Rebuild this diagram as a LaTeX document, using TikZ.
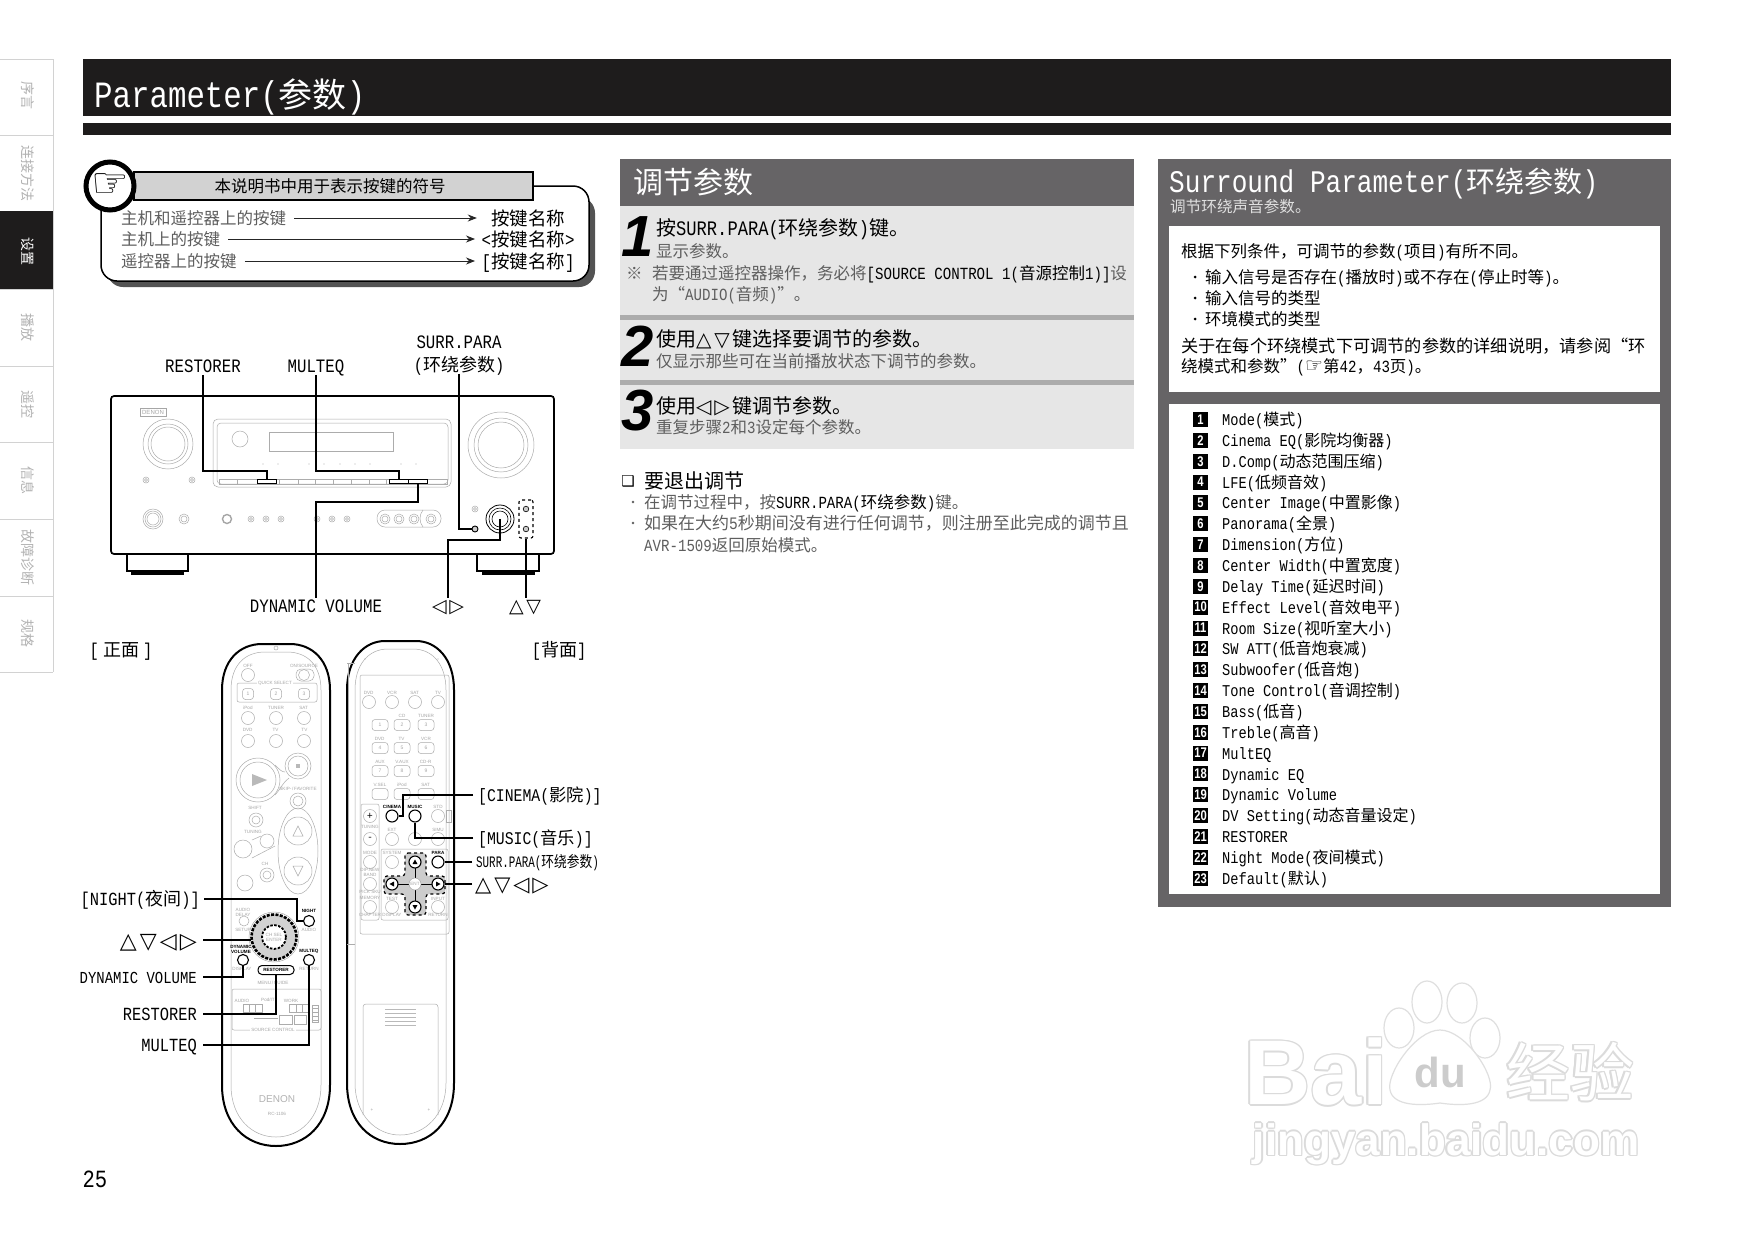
\documentclass[tikz,border=0pt]{standalone}
\usepackage{fontspec}
\usepackage{graphicx}
\usepackage{tikz}
\usepackage{xcolor}
\usetikzlibrary{arrows.meta}

\setmainfont{Noto Sans CJK SC}
\newfontfamily\latinf{Liberation Mono}[Scale=1.03, FakeStretch=0.83]
\newfontfamily\symf{DejaVu Sans}
\newfontfamily\sansf{Liberation Sans}
\newfontfamily\numf{Liberation Sans}[FakeStretch=0.8]

\newcommand{\zs}{\rule[-.25em]{0pt}{1.26em}}
\newcommand{\fsz}[1]{\fontsize{#1}{#1}\selectfont\zs}
\newcommand{\lt}[1]{{\latinf #1}}
\newcommand{\pz}[2]{\lt{#1(}#2\lt{)}}
\newcommand{\cm}{\symbol{"FF0C}}
\newcommand{\tlr}{{\symf ◁\hspace{.14em}▷}}
\newcommand{\tud}{{\symf △\hspace{.14em}▽}}
\newcommand{\wmark}[3]{%
    \foreach \a in {0,45,...,315}{\node[gray!28] at ([shift={(\a:1.5pt)}]#2) {#3};}
    \node[white] (#1) at (#2) {#3};}

\definecolor{headgray}{HTML}{666466}
\definecolor{panelgray}{HTML}{E6E6E6}
\definecolor{softtxt}{HTML}{5E5E5E}
\definecolor{titleblack}{HTML}{1E1C1C}

\tikzset{
    txt/.style={anchor=west, inner sep=0pt, text=black},
    ctxt/.style={inner sep=0pt, text=black},
    rtxt/.style={anchor=east, inner sep=0pt, text=black},
    leader/.style={line width=1.6pt, black},
    faint/.style={line width=0.5pt, gray!65},
    tiny/.style={inner sep=0pt, text=gray!70, font=\sansf\fontsize{4.6}{5}\selectfont, align=center},
    tinydark/.style={inner sep=0pt, text=black, font=\sansf\bfseries\fontsize{4.6}{5}\selectfont, align=center},
    softbtn/.style={circle, draw=gray!65, line width=0.5pt, inner sep=0pt, minimum size=13pt},
    softkey/.style={rectangle, rounded corners=3pt, draw=gray!65, line width=0.5pt, inner sep=0pt, minimum width=16pt, minimum height=11pt, text=gray!70, font=\sansf\fontsize{5}{5}\selectfont},
    keybtn/.style={circle, draw=black, line width=1.1pt, fill=white, inner sep=0pt, minimum size=11pt},
    panelkey/.style={rectangle, draw=black, line width=0.9pt, fill=white, inner sep=0pt, minimum width=19pt, minimum height=4.5pt},
    numbox/.style={rectangle, fill=black, text=white, inner sep=0pt, minimum size=15pt, font=\numf\bfseries\fontsize{14}{14}\selectfont},
    hrow/.style={-{Stealth[length=9pt,width=7pt]}, line width=0.8pt, gray!30!black},
}

\begin{document}
\begin{tikzpicture}[x=1pt, y=-1pt]
    \useasboundingbox (0,0) rectangle (1754,1240);
    \fill[white] (0,0) rectangle (1754,1240);

    % Side tabs
    \draw[gray!35, line width=1pt] (53,59) -- (53,672);
    \foreach \y in {59,135,289,366,442,519,596,672}
        \draw[gray!35, line width=1pt] (0,\y) -- (53,\y);
    \fill[titleblack] (0,211) rectangle (53,289);
    \foreach \i/\y/\t in {a/95/序言,b/173/连接方法,d/327/播放,e/404/遥控,f/480/信息,g/557/故障诊断,h/633/规格}
        \node[ctxt, text=gray!60, rotate=-90, font=\fsz{14}] (tab\i) at (28,\y) {\t};
    \node[ctxt, text=white, rotate=-90, font=\fsz{14}] (tabc) at (28,251) {设置};

    % Title bars
    \fill[titleblack] (83,59) rectangle (1671,116);
    \fill[titleblack] (83,123) rectangle (1671,135);
    \node[txt, text=white, font=\fsz{36}] (title) at (94,94) {\lt{Parameter(}{\fsz{34}参数}\lt{)}};

    % Key symbols note
    \path[fill=gray!65!black, rounded corners=16pt] (110,197) -- (595,197) -- (595,287) -- (107,287) -- cycle;
    \draw[fill=white, line width=1.5pt, rounded corners=16pt] (533,186) -- (589,186) -- (589,281) -- (101,281) -- (101,195) -- (130,186) -- cycle;
    \node[rectangle, draw=black, line width=1.5pt, fill=gray!35, minimum width=399pt, minimum height=28pt, inner sep=0pt] (notehead) at (333.5,186) {};
    \node[ctxt, font=\fsz{16.5}] (notetitle) at (330,186) {本说明书中用于表示按键的符号};
    \node[circle, draw=black, line width=5pt, fill=white, minimum size=48pt, inner sep=0pt, font=\symf\fontsize{42}{42}\selectfont] (hand) at (110,186) {☞};

    \node[txt, text=softtxt, font=\fsz{16.5}] (rowa) at (121,218) {主机和遥控器上的按键};
    \node[txt, text=softtxt, font=\fsz{16.5}] (rowb) at (121,239) {主机上的按键};
    \node[txt, text=softtxt, font=\fsz{16.5}] (rowc) at (121,261) {遥控器上的按键};
    \node[ctxt, font=\fsz{18.5}] (keya) at (528,218) {按键名称};
    \node[ctxt, font=\fsz{18.5}] (keyb) at (528,239) {\lt{<}按键名称\lt{>}};
    \node[ctxt, font=\fsz{18.5}] (keyc) at (528,261) {\lt{[}按键名称\lt{]}};
    \draw[hrow] ([xshift=8pt]rowa.east) -- ([xshift=-14pt]keya.west);
    \draw[hrow] ([xshift=8pt]rowb.east) -- (475,239);
    \draw[hrow] ([xshift=8pt]rowc.east) -- (475,261);

    % Receiver body
    \draw[line width=1.7pt, rounded corners=3pt] (111,396) rectangle (554,554);
    \draw[line width=1.3pt] (127,554) -- (127,571) -- (188,571) -- (188,554);
    \fill[black] (131,571) rectangle (184,575);
    \draw[line width=1.3pt] (477,554) -- (477,571) -- (539,571) -- (539,554);
    \fill[black] (482,571) rectangle (535,575);
    \node[rectangle, draw=gray!70, line width=0.6pt, minimum width=26pt, minimum height=8pt, inner sep=0pt, text=gray!70, font=\sansf\fontsize{6}{6}\selectfont] (logo) at (153,412) {DENON};

    % Receiver knobs and small controls
    \draw[faint] (168,444) circle (25pt) circle (20pt) circle (17pt);
    \draw[faint] (501,445) circle (33pt) circle (27pt) circle (23pt);
    \foreach \x/\y in {146/480,192/480,475/509}
        \draw[faint] (\x,\y) circle (3pt) circle (1.5pt);
    \draw[faint] (153,519) circle (10pt) circle (8pt) circle (6pt);
    \draw[faint] (184,519) circle (5pt) circle (3pt);
    \draw[gray!70, line width=1.4pt] (227,519) circle (4.5pt);
    \foreach \x in {251,266,281,317,332,347}
        \draw[faint] (\x,519) circle (3pt) circle (1.5pt);
    \draw[faint, rounded corners=8pt] (377,510) rectangle (441,527);
    \draw[faint] (423,510) .. controls (419,515) and (419,522) .. (423,527);
    \foreach \x in {385,399,414,431}
        \draw[faint] (\x,519) circle (5pt) circle (3pt);

    % Receiver display panel
    \draw[faint, rounded corners=5pt] (213,419) rectangle (451,487);
    \draw[faint, rounded corners=4pt] (217,423) rectangle (448,484);
    \draw[faint] (240,439) circle (8pt);
    \draw[faint] (269,432) rectangle (393,451);
    \foreach \x in {263,278,309,324,340,355,370,401,416}
        \fill[gray!60] (\x,464) circle (0.7pt);
    \draw[faint] (219,479) rectangle (447,484);
    \foreach \x in {237,279,298,315,333,351,369,386}
        \draw[faint] (\x,479) -- (\x,484);
    \node[panelkey] (pkrestorer) at (267,481.5) {};
    \node[panelkey] (pkmulteq) at (399,481.5) {};
    \node[panelkey] (pkdynvol) at (418,481.5) {};
    \node[circle, draw=black, line width=0.9pt, fill=gray!40, inner sep=0pt, minimum size=6pt] (pksurr) at (475,529) {};
    \node[circle, draw=black, line width=0.8pt, inner sep=0pt, minimum size=28pt] (pkdial) at (500,519) {};
    \draw[line width=0.6pt] (500,519) circle (11pt) circle (8pt);
    \node[rectangle, draw=black, line width=1.1pt, dashed, rounded corners=2pt, minimum width=14pt, minimum height=38pt, inner sep=0pt] (pkupdn) at (526,519) {};
    \foreach \y in {509,529}
        \draw[line width=0.6pt, fill=gray!40] (526,\y) circle (2.8pt);

    % Receiver labels
    \node[ctxt, font=\fsz{18.4}] (lblrest) at (203,366) {\lt{RESTORER}};
    \node[ctxt, font=\fsz{18.4}] (lblmulti) at (316,366) {\lt{MULTEQ}};
    \node[ctxt, font=\fsz{18.4}] (lblsurr) at (459,342) {\lt{SURR.PARA}};
    \node[ctxt, font=\fsz{18}] (lblsurrb) at (459,365) {\pz{}{环绕参数}};
    \node[ctxt, font=\fsz{18.4}] (lbldyn) at (316,605) {\lt{DYNAMIC VOLUME}};
    \node[ctxt, font=\fsz{19}] (lbllr) at (448,605) {\tlr};
    \node[ctxt, font=\fsz{19}] (lblud) at (525,605) {\tud};

    % Receiver leaders
    \coordinate (turnrest) at (267,471);
    \coordinate (turnmulti) at (399,471);
    \coordinate (turndyn) at (316,502);
    \coordinate (turnlr) at (448,540);
    \draw[leader] ([yshift=3pt]lblrest.south) |- (turnrest) -- (pkrestorer.north);
    \draw[leader] ([yshift=3pt]lblmulti.south) |- (turnmulti) -- (pkmulteq.north);
    \draw[leader] (pkdynvol.south) |- (turndyn) -- ([yshift=-5pt]lbldyn.north);
    \draw[leader] ([yshift=3pt]lblsurrb.south) |- (pksurr.west);
    \draw[leader] (pkdial.center) |- (turnlr) -- ([yshift=-5pt]lbllr.north);
    \draw[leader] (pkupdn.south) -- ([xshift=1pt,yshift=-5pt]lblud.north);

    % Front and back captions
    \node[ctxt, font=\fsz{18}] (capfront) at (121,650) {\lt{[} 正面 \lt{]}};
    \node[ctxt, font=\fsz{18}] (capback) at (559,650) {\lt{[}背面\lt{]}};

    % Front remote shell
    \draw[line width=2pt] (222,690) .. controls (222,660) and (240,644) .. (262,644) -- (290,644) .. controls (312,644) and (330,660) .. (330,690) -- (330,1085) .. controls (330,1125) and (305,1146) .. (276,1146) .. controls (247,1146) and (222,1125) .. (222,1085) -- cycle;
    \draw[faint] (231,690) .. controls (231,665) and (245,652) .. (265,652) -- (287,652) .. controls (307,652) and (321,665) .. (321,690) -- (321,1085) .. controls (321,1118) and (300,1137) .. (276,1137) .. controls (252,1137) and (231,1118) .. (231,1085) -- cycle;
    \draw[faint] (276,648) circle (2pt);

    % Front remote keys, top half
    \node[softbtn] (fbtnoff) at (248,675) {};
    \node[tiny] (foff) at (248,666) {OFF};
    \draw[faint, rounded corners=5pt] (296,669) rectangle (314,681);
    \draw[faint] (304,675) circle (5.5pt);
    \node[tiny] (fsrc) at (304,666) {ON/SOURCE};
    \draw[faint, rounded corners=2pt] (237,683) rectangle (317,702);
    \node[tiny, fill=white, inner xsep=1pt] (fquick) at (275,683) {QUICK SELECT};
    \foreach \i/\x in {1/248,2/276,3/304}
        \node[softkey, minimum width=11pt] (fkey\i) at (\x,694) {\i};
    \foreach \i/\x/\a/\b in {1/248/iPod/DVD\,/\,HDP,2/276/TUNER/TV\,/\,CBL,3/304/SAT\,/\,TV/VCR}{
        \node[softbtn] (fa\i) at (\x,718) {};
        \node[tiny] (fla\i) at (\x,708) {\a};
        \node[softbtn] (fb\i) at (\x,741) {};
        \node[tiny] (flb\i) at (\x,730) {\b};
    }

    % Front remote keys, transport
    \draw[faint] (258,780) circle (22pt) circle (18pt);
    \fill[gray!55] (252,774) -- (267,780) -- (252,786) -- cycle;
    \draw[faint] (298,766) circle (13pt) circle (10pt);
    \fill[gray!55] (296,764) rectangle (300,768);
    \draw[faint] (275,765) .. controls (280,770) and (282,772) .. (285,772);
    \draw[faint] (275,795) .. controls (280,790) and (283,782) .. (289,778);
    \node[tiny] (fskip) at (298,789) {SKIP-\,/\,FAVORITE};
    \draw[faint] (298,801) circle (8pt) circle (5pt);
    \node[tiny] (fshift) at (255,808) {SHIFT};
    \draw[faint] (256,820) circle (7pt) circle (4pt);
    \node[tiny] (ftun) at (253,832) {TUNING};
    \draw[faint] (243,849) circle (9pt);
    \draw[faint] (267,841) circle (7pt);
    \draw[faint] (252,840) -- (261,836);
    \draw[faint] (252,858) -- (275,846);
    \node[tiny] (fch) at (265,864) {CH};
    \draw[faint] (267,875) circle (7pt) circle (4pt);
    \draw[faint] (245,883) circle (8pt);
    \draw[faint] (298,831) circle (14pt);
    \draw[faint] (298,871) circle (14pt);
    \draw[faint] (298,851) ellipse (20pt and 43pt);
    \draw[faint] (293,836) -- (298,826) -- (303,836) -- cycle;
    \draw[faint] (293,866) -- (303,866) -- (298,876) -- cycle;

    % Front remote keys, dial area
    \node[tiny] (fdelay) at (243,912) {AUDIO\\DELAY};
    \draw[faint] (244,921) circle (5pt);
    \node[tiny] (fsetup) at (243,930) {SETUP};
    \node[tinydark] (fnight) at (309,911) {NIGHT};
    \node[keybtn] (btnnight) at (309,921) {};
    \node[tiny] (faudio) at (309,930) {AUDIO};
    \draw[faint] (274,937) circle (25pt);
    \node[circle, fill=gray!35, inner sep=0pt, minimum size=46pt] (dial) at (274,937) {};
    \draw[line width=2.6pt, dash pattern=on 3pt off 1.4pt] (274,937) circle (22.5pt);
    \draw[line width=1.8pt, fill=white, dash pattern=on 2.5pt off 1.5pt] (274,937) circle (12pt);
    \node[tiny] (fenter) at (274,937) {CH SEL\\ENTER};
    \node[tinydark] (fdynlbl) at (241,949) {DYNAMIC\\VOLUME};
    \node[keybtn] (btndyn) at (243,960) {};
    \node[tiny] (fdisp) at (242,969) {DISPLAY};
    \node[tinydark] (fmultlbl) at (309,951) {MULTEQ};
    \node[keybtn] (btnmult) at (309,960) {};
    \node[tiny] (fret) at (309,969) {RETURN};
    \node[rectangle, rounded corners=4pt, draw=black, line width=1pt, fill=white, minimum width=36pt, minimum height=9pt, inner sep=0pt, font=\sansf\bfseries\fontsize{4.6}{5}\selectfont] (btnrest) at (276,970) {RESTORER};
    \node[tiny] (fmenu) at (273,983) {MENU\,/\,GUIDE};

    % Front remote source switches
    \draw[faint, rounded corners=2pt] (232,989) rectangle (321,1030);
    \node[tiny, fill=white, inner xsep=1pt] (fsrcctl) at (273,1030) {SOURCE CONTROL};
    \node[tiny] (fsaudio) at (242,1001) {AUDIO};
    \node[tiny] (fsvid) at (268,1000) {Pod/IT};
    \node[tiny] (fswork) at (291,1001) {WORK};
    \draw[faint] (243,1004) rectangle (262,1012);
    \draw[faint] (289,1004) rectangle (308,1012);
    \foreach \x in {249,255,296,302}
        \draw[faint] (\x,1004) -- (\x,1012);
    \draw[faint] (254,1018) -- (278,1018);
    \draw[faint] (279,1015) rectangle (292,1024);
    \draw[faint] (294,1015) rectangle (306,1024);
    \draw[faint] (312,1005) rectangle (318,1022);
    \foreach \y in {1008,1012,1016,1020}
        \draw[faint] (312,\y) -- (318,\y);

    % Front remote brand
    \node[inner sep=0pt, text=gray!60, font=\sansf\fontsize{10}{10}\selectfont] (fdenon) at (277,1099) {DENON};
    \node[tiny] (fmodel) at (277,1114) {RC-1106};

    % Front remote labels and leaders
    \node[rtxt, font=\fsz{18}] (lblnight) at (200,899) {\lt{[NIGHT(}夜间\lt{)]}};
    \node[rtxt, font=\fsz{22}] (lblarrows) at (197,940) {\tud\hspace{.14em}\tlr};
    \node[rtxt, font=\fsz{16.3}] (lblfdyn) at (197,977) {\lt{DYNAMIC VOLUME}};
    \node[rtxt, font=\fsz{18}] (lblfrest) at (197,1014) {\lt{RESTORER}};
    \node[rtxt, font=\fsz{18}] (lblfmult) at (197,1045) {\lt{MULTEQ}};
    \coordinate (turnnight) at (297,921);
    \draw[leader] ([xshift=4pt]lblnight.east) -| (turnnight) -- (btnnight.west);
    \draw[leader] ([xshift=6pt]lblarrows.east) -- (dial.west |- lblarrows.east);
    \draw[leader] ([xshift=6pt]lblfdyn.east) -| (btndyn.south);
    \draw[leader] ([xshift=6pt]lblfrest.east) -| (btnrest.south);
    \draw[leader] ([xshift=6pt]lblfmult.east) -| (btnmult.south);

    % Back remote shell
    \draw[line width=2pt] (347,690) .. controls (347,658) and (365,641) .. (385,641) -- (416,641) .. controls (436,641) and (454,658) .. (454,690) -- (454,1083) .. controls (454,1123) and (430,1144) .. (400,1144) .. controls (371,1144) and (347,1123) .. (347,1083) -- cycle;
    \draw[faint] (355,690) .. controls (355,665) and (368,649) .. (388,649) -- (413,649) .. controls (433,649) and (446,665) .. (446,690) -- (446,1083) .. controls (446,1115) and (425,1135) .. (400,1135) .. controls (376,1135) and (355,1115) .. (355,1083) -- cycle;
    \draw[faint] (347,663) -- (355,663);
    \draw[faint] (347,944) -- (355,944);
    \draw[faint] (348,663) -- (348,944);
    \foreach \x in {365,438}
        \fill[gray!60] (\x,659) circle (0.7pt);
    \draw[faint, rounded corners=2pt] (360,675) rectangle (449,934);

    % Back remote upper keys
    \foreach \i/\x/\t in {1/369/DVD\,/\,HDP,2/392/VCR,3/415/SAT\,/\,CBL,4/438/TV}{
        \node[softbtn] (ba\i) at (\x,702) {};
        \node[tiny] (bal\i) at (\x,693) {\t};
    }
    \foreach \i/\x/\t in {1/380/,2/402/CD,3/426/TUNER}{
        \node[softkey] (bb\i) at (\x,725) {\i};
        \node[tiny] (bbl\i) at (\x,716) {\t};
    }
    \foreach \i/\x/\t in {4/380/DVD\,/\,HDP,5/402/TV\,/\,CBL,6/426/VCR}{
        \node[softkey] (bb\i) at (\x,748) {\i};
        \node[tiny] (bbl\i) at (\x,739) {\t};
    }
    \foreach \i/\x/\t in {7/380/AUX,8/402/V.AUX,9/426/CD-R\,/\,TAPE}{
        \node[softkey] (bb\i) at (\x,771) {\i};
        \node[tiny] (bbl\i) at (\x,762) {\t};
    }
    \foreach \i/\x/\t in {1/380/V.SEL,2/402/iPod,3/426/SAT\,/\,TV}{
        \node[softkey] (bc\i) at (\x,794) {};
        \node[tiny] (bcl\i) at (\x,785) {\t};
    }

    % Back remote mode keys
    \node[tinydark] (bcin) at (392,807) {CINEMA};
    \node[keybtn, minimum size=12pt] (btncin) at (392,816) {};
    \node[tinydark] (bmus) at (415,807) {MUSIC};
    \node[keybtn, minimum size=12pt] (btnmus) at (415,816) {};
    \node[tiny] (bstd) at (438,807) {STD};
    \node[softbtn] (bbtnstd) at (438,816) {};
    \draw[faint] (446,810) rectangle (451,822);
    \node[tiny] (bext) at (392,830) {EXT};
    \node[softbtn] (bbtnext) at (392,839) {};
    \node[softbtn] (bbtnmid) at (415,839) {};
    \node[tiny] (bsim) at (438,830) {SIMU};
    \node[softbtn] (bbtnsim) at (438,839) {};

    % Back remote left column
    \draw[faint, rounded corners=2pt] (361,804) rectangle (379,920);
    \node[softbtn] (bplus) at (370,816) {+};
    \node[tiny] (btuning) at (370,827) {TUNING};
    \node[softbtn] (bminus) at (370,839) {-};
    \foreach \i/\a/\b/\y in {1/MODE/DIP.NEW/862,2/BAND/PICK SKU/884,3/MEMORY/CHAPTER/907}{
        \node[softbtn] (bcol\i) at (370,\y) {};
        \node[tiny] (bcolt\i) at (370,\y-9) {\a};
        \node[tiny] (bcolb\i) at (370,\y+8) {\b};
    }

    % Back remote cursor cross
    \draw[faint, rounded corners=2pt] (381,849) rectangle (448,920);
    \draw[fill=gray!40, line width=1.2pt, dashed, rounded corners=3pt] (405,853) -- (426,853) -- (426,876) -- (445,876) -- (445,894) -- (426,894) -- (426,915) -- (405,915) -- (405,894) -- (384,894) -- (384,876) -- (405,876) -- cycle;
    \draw[line width=0.5pt] (415,862) -- (415,907);
    \draw[line width=0.5pt] (392,884) -- (438,884);
    \foreach \i/\x/\y in {up/415/862,dn/415/907,lf/392/884,rt/438/884}
        \node[keybtn, minimum size=12pt] (cur\i) at (\x,\y) {};
    \fill[black] (415,859.5) -- (412.5,864) -- (417.5,864) -- cycle;
    \fill[black] (415,909.5) -- (412.5,905) -- (417.5,905) -- cycle;
    \fill[black] (389.5,884) -- (394,881.5) -- (394,886.5) -- cycle;
    \fill[black] (440.5,884) -- (436,881.5) -- (436,886.5) -- cycle;
    \node[circle, draw=gray!70, fill=white, line width=0.5pt, minimum size=12pt, inner sep=0pt, text=gray!70, font=\sansf\fontsize{4.6}{5}\selectfont] (curent) at (415,884) {ENT};
    \node[tiny] (bsys) at (392,853) {SYSTEM};
    \node[softbtn] (bbtnsys) at (392,862) {};
    \node[tinydark] (bpara) at (438,853) {PARA};
    \node[keybtn, minimum size=12pt] (btnpara) at (438,862) {};
    \node[tiny] (btest) at (392,899) {TEST};
    \node[softbtn] (bbtntest) at (392,907) {};
    \node[tiny] (bdisp) at (392,915) {DISPLAY};
    \node[tiny] (binput) at (438,899) {INPUT};
    \node[softbtn] (bbtninput) at (438,907) {};
    \node[tiny] (bret) at (438,915) {RETURN};

    % Back remote battery cover
    \draw[faint, rounded corners=3pt] (363,1115) -- (363,1004) -- (438,1004) -- (438,1115);
    \foreach \y in {1009,1013,1017,1021,1025}
        \draw[gray!55, line width=1pt] (385,\y) -- (416,\y);
    \node[tiny] (plusa) at (372,1110) {+};
    \node[tiny] (plusb) at (429,1110) {+};

    % Back remote labels and leaders
    \node[txt, font=\fsz{17.3}] (lblcin) at (478,795) {\lt{[CINEMA(}影院\lt{)]}};
    \node[txt, font=\fsz{17.3}] (lblmus) at (478,838) {\lt{[MUSIC(}音乐\lt{)]}};
    \node[txt, font=\fsz{15.5}] (lblpara) at (476,862) {\scalebox{0.82}[1]{\lt{SURR.PARA(}环绕参数\lt{)}}};
    \node[txt, font=\fsz{21}] (lblcur) at (475,884) {\tud\hspace{.14em}\tlr};
    \coordinate (turncin) at (403,816);
    \draw[leader] ([xshift=-5pt]lblcin.west) -| (turncin) -- (btncin.east);
    \draw[leader] ([xshift=-5pt]lblmus.west) -| (btnmus.south);
    \draw[leader] ([xshift=-4pt]lblpara.west) -- (btnpara.east);
    \draw[leader] ([xshift=-3pt]lblcur.west) -- (currt.east);

    % Adjusting steps
    \fill[headgray] (620,159) rectangle (1134,206);
    \node[txt, text=white, font=\fsz{30}] (steptitle) at (633,182) {调节参数};
    \fill[panelgray] (620,206) rectangle (1134,449);
    \fill[gray!65] (620,315) rectangle (1134,320);
    \fill[gray!65] (620,380) rectangle (1134,385);
    \foreach \n/\y in {1/237,2/346,3/411}
        \node[ctxt, font=\sansf\bfseries\itshape\fontsize{58}{58}\selectfont] (num\n) at (638,\y) {\n};

    \node[txt, font=\fsz{20}] (stepa) at (656,228) {按\lt{SURR.PARA(}环绕参数\lt{)}键。};
    \node[txt, text=softtxt, font=\fsz{16.5}] (stepasub) at (656,251) {显示参数。};
    \node[txt, text=softtxt, font=\fsz{16.5}] (noteb) at (626,273) {※};
    \node[txt, text=softtxt, font=\fsz{16.5}] (notea) at (652,273) {若要通过遥控器操作\cm 务必将{\color{black}\lt{[SOURCE CONTROL 1(}音源控制\lt{1)]}}设};
    \node[txt, text=softtxt, font=\fsz{16.5}] (notec) at (652,294) {为“\lt{AUDIO(}音频\lt{)}”。};
    \node[txt, font=\fsz{20}] (stepb) at (656,339) {使用\tud\hspace{.14em}键选择要调节的参数。};
    \node[txt, text=softtxt, font=\fsz{16.5}] (stepbsub) at (656,361) {仅显示那些可在当前播放状态下调节的参数。};
    \node[txt, font=\fsz{20}] (stepc) at (656,406) {使用\tlr\hspace{.14em}键调节参数。};
    \node[txt, text=softtxt, font=\fsz{16.5}] (stepcsub) at (656,427) {重复步骤\lt{2}和\lt{3}设定每个参数。};

    % Leaving the adjustment
    \node[ctxt, font=\symf\fsz{15}] (exitbox) at (628,481) {❑};
    \node[txt, font=\fsz{20}] (exithead) at (644,481) {要退出调节};
    \foreach \i/\y in {a/502,b/523}
        \fill[softtxt] (633,\y) circle (1.4pt);
    \node[txt, text=softtxt, font=\fsz{16.5}] (exita) at (644,502) {在调节过程中\cm 按{\color{black}\lt{SURR.PARA(}环绕参数\lt{)}}键。};
    \node[txt, text=softtxt, font=\fsz{17}] (exitb) at (644,523) {如果在大约\lt{5}秒期间没有进行任何调节\cm 则注册至此完成的调节且};
    \node[txt, text=softtxt, font=\fsz{16.5}] (exitc) at (644,545) {\lt{AVR-1509}返回原始模式。};

    % Surround parameter panel
    \fill[headgray] (1158,159) rectangle (1671,907);
    \node[txt, text=white, font=\fsz{30.5}] (surrtitle) at (1169,181) {\lt{Surround Parameter(}{\fsz{29}环绕参数}\lt{)}};
    \node[txt, text=gray!25, font=\fsz{15.6}] (surrsub) at (1170,207) {调节环绕声音参数。};
    \fill[white] (1169,226) rectangle (1660,392);
    \fill[white] (1169,404) rectangle (1660,894);

    \node[txt, font=\fsz{16.5}] (conda) at (1181,251) {根据下列条件\cm 可调节的参数\lt{(}项目\lt{)}有所不同。};
    \foreach \i/\y in {a/277,b/298,c/319}
        \fill[black] (1195,\y) circle (1.5pt);
    \node[txt, font=\fsz{16.5}] (bula) at (1205,277) {输入信号是否存在\lt{(}播放时\lt{)}或不存在\lt{(}停止时等\lt{)}。};
    \node[txt, font=\fsz{16.5}] (bulb) at (1205,298) {输入信号的类型};
    \node[txt, font=\fsz{16.5}] (bulc) at (1205,319) {环境模式的类型};
    \node[txt, font=\fsz{17.2}] (conde) at (1181,346) {关于在每个环绕模式下可调节的参数的详细说明\cm 请参阅“环};
    \node[txt, font=\fsz{16.5}] (condf) at (1181,366) {绕模式和参数”\lt{(}{\symf\fontsize{20}{20}\selectfont ☞}第\lt{42}\cm\lt{43}页\lt{)}。};

    % Parameter list
    \foreach \n/\t in {1/\lt{Mode(}模式\lt{)},2/\pz{Cinema EQ}{影院均衡器},3/\pz{D.Comp}{动态范围压缩},4/\pz{LFE}{低频音效},5/\pz{Center Image}{中置影像},6/\pz{Panorama}{全景},7/\pz{Dimension}{方位},8/\pz{Center Width}{中置宽度},9/\pz{Delay Time}{延迟时间},10/\pz{Effect Level}{音效电平},11/\pz{Room Size}{视听室大小},12/\pz{SW ATT}{低音炮衰减},13/\pz{Subwoofer}{低音炮},14/\pz{Tone Control}{音调控制},15/\pz{Bass}{低音},16/\pz{Treble}{高音},17/\lt{MultEQ},18/\lt{Dynamic EQ},19/\lt{Dynamic Volume},20/\pz{DV Setting}{动态音量设定},21/\lt{RESTORER},22/\pz{Night Mode}{夜间模式},23/\pz{Default}{默认}}{
        \pgfmathsetmacro\yy{419.5+(\n-1)*20.85}
        \node[numbox] (sq\n) at (1200.5,\yy) {\n};
        \node[txt, font=\fsz{16}] (item\n) at (1222,\yy) {\t};
    }

    % Page number
    \node[ctxt, font=\fsz{24}] (pagenum) at (95,1178) {\lt{25}};

    % Watermark
    \foreach \i/\x/\y/\rx/\ry in {a/1399/1028/15/20,b/1427/1002/15/21,c/1462/1003/15/20,d/1485/1038/15/20}
        \draw[gray!25, line width=1.2pt, fill=white] (\x,\y) ellipse (\rx pt and \ry pt);
    \draw[gray!25, line width=1.2pt, fill=white] (1440,1030) .. controls (1465,1030) and (1495,1075) .. (1490,1090) .. controls (1487,1106) and (1460,1106) .. (1440,1103) .. controls (1420,1106) and (1393,1106) .. (1390,1090) .. controls (1386,1075) and (1415,1030) .. (1440,1030) -- cycle;
    \wmark{wmbai}{1316,1072}{\sansf\bfseries\fontsize{92}{92}\selectfont Bai}
    \node[inner sep=0pt, text=gray!40, font=\sansf\bfseries\fontsize{42}{42}\selectfont] (wmdu) at (1440,1072) {du};
    \wmark{wmjy}{1570,1072}{\fontsize{64}{64}\selectfont 经验}
    \wmark{wmurl}{1446,1144}{\sansf\bfseries\fontsize{44}{44}\selectfont jingyan.baidu.com}
\end{tikzpicture}
\end{document}
